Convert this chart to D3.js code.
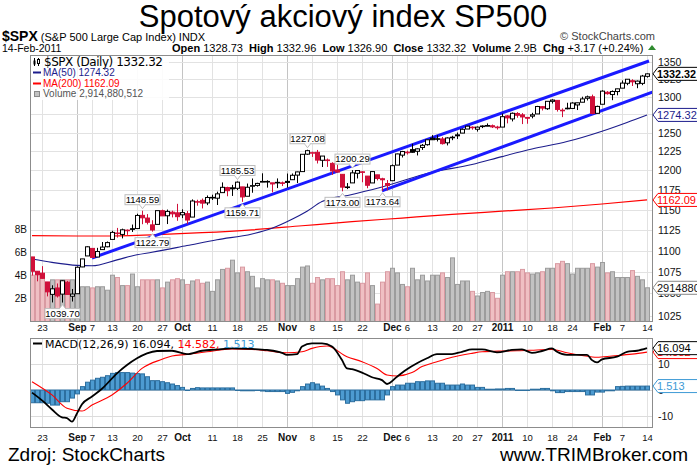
<!DOCTYPE html>
<html><head><meta charset="utf-8">
<script src="https://cdn.jsdelivr.net/npm/d3@7/dist/d3.min.js"></script>
<style>body{margin:0;background:#fff}svg{display:block;font-family:"Liberation Sans",Arial,sans-serif}</style>
</head><body>
<svg id="c" width="697" height="470"></svg>
<script>
// ---------------- DATA ----------------
const dates = ["2010-08-19","2010-08-20","2010-08-23","2010-08-24","2010-08-25","2010-08-26","2010-08-27","2010-08-30","2010-08-31",
"2010-09-01","2010-09-02","2010-09-03","2010-09-07","2010-09-08","2010-09-09","2010-09-10","2010-09-13","2010-09-14","2010-09-15","2010-09-16","2010-09-17","2010-09-20","2010-09-21","2010-09-22","2010-09-23","2010-09-24","2010-09-27","2010-09-28","2010-09-29","2010-09-30",
"2010-10-01","2010-10-04","2010-10-05","2010-10-06","2010-10-07","2010-10-08","2010-10-11","2010-10-12","2010-10-13","2010-10-14","2010-10-15","2010-10-18","2010-10-19","2010-10-20","2010-10-21","2010-10-22","2010-10-25","2010-10-26","2010-10-27","2010-10-28","2010-10-29",
"2010-11-01","2010-11-02","2010-11-03","2010-11-04","2010-11-05","2010-11-08","2010-11-09","2010-11-10","2010-11-11","2010-11-12","2010-11-15","2010-11-16","2010-11-17","2010-11-18","2010-11-19","2010-11-22","2010-11-23","2010-11-24","2010-11-26","2010-11-29","2010-11-30",
"2010-12-01","2010-12-02","2010-12-03","2010-12-06","2010-12-07","2010-12-08","2010-12-09","2010-12-10","2010-12-13","2010-12-14","2010-12-15","2010-12-16","2010-12-17","2010-12-20","2010-12-21","2010-12-22","2010-12-23","2010-12-27","2010-12-28","2010-12-29","2010-12-30","2010-12-31",
"2011-01-03","2011-01-04","2011-01-05","2011-01-06","2011-01-07","2011-01-10","2011-01-11","2011-01-12","2011-01-13","2011-01-14","2011-01-18","2011-01-19","2011-01-20","2011-01-21","2011-01-24","2011-01-25","2011-01-26","2011-01-27","2011-01-28","2011-01-31",
"2011-02-01","2011-02-02","2011-02-03","2011-02-04","2011-02-07","2011-02-08","2011-02-09","2011-02-10","2011-02-11","2011-02-14"];
const prevClose = 1094.16;
const open = [1092.44,1075.63,1073.36,1063.20,1048.98,1056.28,1049.27,1062.90,1046.88,1049.72,1080.66,1093.61,1102.60,1092.36,1101.15,1104.57,1113.38,1121.16,1119.43,1123.89,1126.39,1126.57,1142.82,1139.49,1131.10,1131.69,1148.64,1142.31,1146.75,1145.97,1143.49,1144.96,1140.68,1159.81,1161.57,1158.36,1165.32,1164.28,1171.32,1177.82,1177.47,1176.83,1178.64,1166.74,1179.56,1180.52,1184.74,1184.88,1183.84,1184.47,1183.87,1185.71,1187.86,1193.79,1198.34,1221.20,1223.24,1223.59,1213.14,1213.04,1209.07,1200.44,1194.79,1178.33,1183.75,1196.12,1198.07,1192.51,1183.70,1194.16,1189.08,1182.96,1186.60,1206.81,1219.93,1223.87,1227.25,1225.02,1230.14,1233.85,1242.52,1241.84,1241.58,1236.34,1243.63,1245.76,1249.43,1254.94,1257.53,1254.66,1259.10,1258.78,1259.44,1256.76,1257.62,1272.95,1268.78,1276.29,1274.41,1270.84,1272.58,1275.65,1285.78,1282.90,1293.22,1294.52,1280.85,1283.63,1283.29,1288.17,1291.97,1297.51,1299.63,1276.50,1289.14,1306.00,1302.77,1307.01,1311.85,1318.76,1322.48,1318.13,1318.66,1328.73];
const high = [1092.44,1075.63,1081.58,1063.20,1059.38,1061.45,1065.21,1064.40,1055.14,1081.30,1090.10,1105.10,1102.60,1103.26,1110.27,1110.88,1123.87,1127.36,1126.46,1125.44,1131.47,1144.86,1148.59,1144.38,1136.77,1148.50,1149.92,1150.00,1148.63,1157.16,1150.30,1148.16,1162.76,1162.33,1163.87,1167.73,1168.68,1172.58,1184.38,1178.89,1181.20,1185.53,1178.64,1182.94,1189.43,1183.93,1196.14,1187.11,1183.84,1189.53,1185.46,1195.81,1195.88,1198.30,1221.25,1227.08,1224.57,1226.84,1218.75,1215.45,1210.50,1207.43,1194.79,1183.56,1200.29,1199.97,1198.94,1192.51,1198.62,1194.16,1190.34,1187.40,1207.61,1221.89,1225.57,1225.80,1235.05,1228.93,1234.71,1240.40,1246.73,1246.59,1244.25,1243.75,1245.81,1250.20,1255.82,1259.39,1258.59,1258.43,1259.90,1262.60,1261.09,1259.34,1276.17,1274.12,1277.63,1278.17,1276.83,1271.52,1277.25,1286.87,1286.70,1293.24,1296.06,1294.60,1283.35,1291.21,1291.93,1291.26,1299.74,1301.29,1302.67,1287.17,1308.86,1307.61,1308.60,1311.00,1322.85,1324.87,1324.54,1322.78,1330.79,1332.96];
const low = [1070.66,1063.91,1067.08,1046.68,1039.83,1045.40,1039.70,1048.79,1040.88,1049.72,1080.39,1093.61,1091.15,1092.36,1101.15,1103.92,1113.38,1115.58,1114.63,1118.88,1122.43,1126.57,1131.87,1131.58,1122.79,1131.69,1142.00,1132.09,1140.26,1136.08,1139.42,1131.87,1140.68,1154.85,1151.41,1155.58,1162.02,1155.71,1171.32,1166.71,1167.12,1174.55,1159.71,1166.74,1171.17,1178.99,1184.74,1177.72,1171.70,1177.10,1179.70,1177.65,1187.86,1183.56,1198.34,1220.29,1217.55,1208.94,1204.33,1204.49,1194.08,1197.15,1173.00,1175.82,1183.75,1189.44,1184.58,1176.91,1183.70,1186.93,1173.64,1174.14,1186.60,1206.81,1216.82,1220.67,1223.25,1219.50,1226.85,1232.57,1240.34,1238.17,1234.01,1232.85,1239.87,1241.51,1249.43,1254.94,1254.05,1251.48,1256.22,1258.78,1256.32,1254.19,1257.62,1262.66,1265.36,1270.43,1261.70,1262.18,1269.62,1275.65,1280.47,1281.24,1290.16,1278.92,1271.26,1282.07,1282.47,1281.07,1291.97,1294.41,1275.10,1276.50,1289.14,1302.62,1294.83,1301.67,1311.85,1316.03,1314.89,1311.74,1316.08,1326.90];
const close = [1075.63,1071.69,1067.36,1051.87,1055.33,1047.22,1064.59,1048.92,1049.33,1080.29,1090.10,1104.51,1091.84,1098.87,1104.18,1109.55,1121.90,1121.10,1125.07,1124.66,1125.59,1142.71,1139.78,1134.28,1124.83,1148.67,1142.16,1147.70,1144.73,1141.20,1146.24,1137.03,1160.75,1159.97,1158.06,1165.15,1165.32,1169.77,1178.10,1173.81,1176.19,1184.71,1165.90,1178.17,1180.26,1183.08,1185.62,1185.64,1182.45,1183.78,1183.26,1184.38,1193.57,1197.96,1221.06,1225.85,1223.25,1213.40,1218.71,1213.54,1199.21,1197.75,1178.34,1178.59,1196.69,1199.73,1197.84,1180.73,1198.35,1189.40,1187.76,1180.55,1206.07,1221.53,1224.71,1223.12,1223.75,1228.28,1233.00,1240.40,1240.46,1241.59,1235.23,1242.87,1243.91,1247.08,1254.60,1258.84,1256.77,1257.54,1258.51,1259.78,1257.88,1257.64,1271.87,1270.20,1276.56,1273.85,1271.50,1269.75,1274.48,1285.96,1283.76,1293.24,1295.02,1281.92,1280.26,1283.35,1290.84,1291.18,1296.63,1299.54,1276.34,1286.12,1307.59,1304.03,1307.10,1310.87,1319.05,1324.57,1320.88,1321.87,1329.15,1332.32];
// volume in billions
const volume = [4.0,4.0,4.0,3.1,3.6,3.6,3.6,3.6,3.6,3.3, 3.0,3.0,2.9,3.0,3.0,2.7,4.0,3.8,3.1,3.1, 4.1,3.0,3.6,3.6,3.6,3.6,2.9,3.4,3.6,3.7, 3.6,3.2,3.5,3.6,3.3,3.4,2.6,3.6,4.5,4.6, 5.3,4.2,4.7,4.3,3.9,2.9,3.7,3.6,3.6,3.5, 3.3,3.1,3.1,3.7,4.7,4.8,3.3,3.8,3.6,3.7, 3.7,3.1,4.3,3.6,4.0,3.4,3.3,4.2,3.1,1.5, 3.4,4.3,4.6,4.2,3.2,3.0,4.6,3.6,4.0,3.5, 4.0,4.0,4.2,3.8,5.5,3.2,3.5,3.5,2.6,2.2, 2.5,2.6,2.5,2.0,4.0,4.3,4.3,4.3,4.5,4.2, 4.1,4.2,4.3,4.6,4.6,5.0,5.2,5.0,4.1,4.6, 4.6,4.6,5.0,4.7,5.1,4.2,4.3,3.8,3.8,3.8, 4.4,3.9,3.6,2.91];
// moving averages (trading-day index, value)
const ma50Idx = [0,4,9,12,17,21,24,31,37,44,48,52,55,58,64,70,80,88,94,100,107,114,119,123];
const ma50Val = [1090,1086,1082.5,1082,1089,1095,1098,1106,1113,1120,1127,1138,1148,1160,1169,1178.5,1197.5,1207.5,1218,1228,1238,1252,1264,1274.32];
const ma200Idx = [0,9,14,24,34,44,54,64,74,84,94,104,114,123];
const ma200Val = [1118,1117.5,1117.5,1119,1121.5,1125,1130,1135,1139.5,1144,1148,1152,1157,1162.09];
// MACD(12,26,9)
const macdIdx = [0,2,4,6,7,8,9,10,12,14,17,19,21,23,25,28,31,34,37,40,44,47,50,51,53,54,56,58,60,62,63,64,66,68,70,71,73,75,77,79,81,84,86,88,90,93,96,98,100,102,104,105,107,109,111,112,113,114,117,119,121,123];
const macdVal = [-1,-4,-7.5,-10.5,-10.8,-12.2,-9,-5.5,-2.5,0.5,6.4,9.6,12.2,14.1,15,15.1,13.8,15.1,15.6,16,15.8,15.4,14.3,13.5,13.8,16.7,17.9,17.9,16.7,11.5,8.3,8,6.7,4.9,3.8,2.3,5.1,8,10.3,12.2,13.8,13.8,14.7,15.6,15.6,14.5,15.4,15.6,14.3,15,16,14.7,13.5,13.5,13.5,11.5,10.6,11.8,12.8,14.7,15.1,16.094];
const sigIdx = [0,4,7,10,12,16,19,22,26,28,31,35,40,44,47,51,54,56,59,63,66,69,71,73,76,78,81,84,88,90,94,97,101,104,107,110,113,116,120,123];
const sigVal = [3.2,-1.9,-7,-8.1,-5.8,-1.9,2.6,8.3,11.8,13.1,13.7,14.7,15.8,15.6,15.1,14.3,14.7,16,16.9,12.8,10.9,8.3,5.8,5.4,6.7,9,10.9,12.6,14.1,14.7,15,15.1,15.4,15.6,14.3,13.3,12.6,13.1,13.8,14.582];
const hist = [-4.9,-4.9,-4.9,-5.1,-5.8,-5.8,-4.5,-4.5,-3.1,-1.5, 1.3,3.0,3.8,4.5,4.9,5.5,6.4,6.7,6.7,6.7, 6.5,6.3,6.2,5.1,3.6,3.6,3.2,2.8,2.3,1.7, 1.0,0,0.6,0.9,0.8,0.8,0.8,0.8,0.8,0.8, 0.8,0,-0.3,-0.3,-0.3,0,-0.4,-0.6,-0.6,-0.6, -0.6,-1.3,-0.9,-0.3,1.3,2.3,2.8,2.3,1.5,0.6, -0.6,-1.9,-3.8,-5.1,-4.5,-4.1,-4.1,-3.8,-3.8,-3.8, -3.8,-1.9,1.3,1.9,1.9,2.6,2.6,3.2,3.2,3.5, 3.5,2.6,2.6,1.9,1.9,1.9,2.3,1.9,1.9,1.0, 1.0,0.3,0.3,0.4,0.4,0.6,0.6,-0.1,-0.1,-0.1, 0.3,0.3,0.6,0.6,-0.3,-1.0,-1.0,-0.6,-0.6,-0.6, -0.6,-1.9,-1.9,-0.8,-0.8,-0.3,-0.3,1.3,1.4,1.5, 1.5,1.5,1.5,1.513];
// trend channel (index, price)
const upperLine = [[12,1091.15],[123.4,1351]];
const lowerLine = [[70,1173.64],[124.2,1306.5]];
// peak / trough labels
const annIdx = [6,22,24,41,42,55,62,64,70];
const annVal = [1039.70,1148.59,1122.79,1185.53,1159.71,1227.08,1173.00,1200.29,1173.64];
const annType = ["low","high","low","high","low","high","low","high","low"];
// axis labels
const tickIdx = [2,9,12,16,21,26,30,36,41,46,51,56,61,66,72,75,80,85,89,94,99,104,108,114,118,123];
const tickText = ["23","Sep","7","13","20","27","Oct","11","18","25","Nov","8","15","22","Dec","6","13","20","27","2011","10","18","24","Feb","7","14"];
const tickMonth = ["Sep","Oct","Nov","Dec","2011","Feb"];
const priceTicks = [1025,1050,1075,1100,1125,1150,1175,1200,1225,1250,1275,1300,1325,1350];
const volTicks = [2,4,6,8];
const macdTicks = [-10,0,10];

// ---------------- DRAW ----------------
const svg = d3.select("#c");
const L=30, R=653, T=55, B=322, MT=338, MB=428;
const RED="#d0103a", NAVY="#1c1c8c", BLUE="#1a1aff", HB="#4d9bd1";
const xi = d3.scaleLinear().domain([0,123]).range([32,647]);
const y = d3.scaleLog().domain([1025,1350]).range([315.7,61.7]);
const yv = d3.scaleLinear().domain([0,8]).range([321.4,229]);
const ym = d3.scaleLinear().domain([-10,10]).range([416,364]);
const px = i => Math.round(xi(i));

svg.append("rect").attr("width",697).attr("height",470).attr("fill","#fff");
const defs = svg.append("defs");
defs.append("clipPath").attr("id","cm").append("rect").attr("x",L).attr("y",T).attr("width",R-L).attr("height",B-T);
defs.append("clipPath").attr("id","cd").append("rect").attr("x",L).attr("y",MT).attr("width",R-L).attr("height",MB-MT);

// Title & header
svg.append("text").attr("x",343).attr("y",27).attr("text-anchor","middle").attr("font-size",31).attr("fill","#000").text("Spotový akciový index SP500");
const h1 = svg.append("text").attr("x",2).attr("y",41).attr("font-size",11);
h1.append("tspan").attr("font-weight","bold").attr("font-size",14).text("$SPX");
h1.append("tspan").text(" (S&P 500 Large Cap Index) INDX");
svg.append("text").attr("x",655).attr("y",40).attr("text-anchor","end").attr("font-size",11).attr("fill","#444").text("© StockCharts.com");
svg.append("text").attr("x",2).attr("y",52).attr("font-size",10.5).text("14-Feb-2011");
const h2 = svg.append("text").attr("x",172).attr("y",52).attr("font-size",11);
[["Open"," 1328.73  "],["High"," 1332.96  "],["Low"," 1326.90  "],["Close"," 1332.32  "],["Volume"," 2.9B  "],["Chg"," +3.17 (+0.24%)"]].forEach(([a,b])=>{
  h2.append("tspan").attr("font-weight","bold").text(a);
  h2.append("tspan").attr("xml:space","preserve").text(b);
});
svg.append("path").attr("d","M648,50 L652,45 L656,50 Z").attr("fill","#2e8b2e");

// Frames & grids
function vgrid(y0,y1){
  tickIdx.forEach((t,k)=>{
    svg.append("line").attr("x1",px(t)+0.5).attr("x2",px(t)+0.5).attr("y1",y0).attr("y2",y1)
      .attr("stroke", tickMonth.includes(tickText[k]) ? "#c4c4c4" : "#e2e2e2");
  });
}
vgrid(T,B); vgrid(MT,MB);
priceTicks.forEach(p=>svg.append("line").attr("x1",L).attr("x2",R).attr("y1",Math.round(y(p))+0.5).attr("y2",Math.round(y(p))+0.5).attr("stroke","#e2e2e2"));
macdTicks.forEach(v=>svg.append("line").attr("x1",L).attr("x2",R).attr("y1",Math.round(ym(v))+0.5).attr("y2",Math.round(ym(v))+0.5).attr("stroke","#dcdcdc"));

// Volume
const gm = svg.append("g").attr("clip-path","url(#cm)");
volume.forEach((v,i)=>{
  const up = close[i] >= (i? close[i-1] : prevClose);
  gm.append("rect").attr("x",px(i)-2+0.5).attr("y",yv(v)).attr("width",4).attr("height",yv(0)-yv(v))
    .attr("fill", up ? "#c2c2c2" : "#efbfc3").attr("stroke", up ? "#9c9c9c" : "#d99aa2");
});
// MAs
const lineIdx = d3.line().x(d=>xi(d[0])).y(d=>y(d[1])).curve(d3.curveMonotoneX);
gm.append("path").attr("d",lineIdx(d3.zip(ma200Idx,ma200Val))).attr("fill","none").attr("stroke","#ff0000").attr("stroke-width",1.2);
gm.append("path").attr("d",lineIdx(d3.zip(ma50Idx,ma50Val))).attr("fill","none").attr("stroke",NAVY).attr("stroke-width",1.1);
// Trend channel
[upperLine,lowerLine].forEach(l=>gm.append("line").attr("x1",xi(l[0][0])).attr("y1",y(l[0][1])).attr("x2",xi(l[1][0])).attr("y2",y(l[1][1])).attr("stroke",BLUE).attr("stroke-width",3));
// Candles
close.forEach((c,i)=>{
  const o=open[i], pc = i? close[i-1] : prevClose;
  const col = c >= pc ? "#000" : RED;
  const X = px(i);
  gm.append("line").attr("x1",X+0.5).attr("x2",X+0.5).attr("y1",y(high[i])).attr("y2",y(low[i])).attr("stroke",col);
  const t = y(Math.max(o,c)), b = y(Math.min(o,c));
  gm.append("rect").attr("x",X-1.5).attr("y",t).attr("width",4).attr("height",Math.max(b-t,0.6))
    .attr("fill", c < o ? col : "#fff").attr("stroke",col);
});
// Peak / trough labels
annIdx.forEach((idx,k)=>{
  const X = px(idx)+0.5, v = annVal[k], hi = annType[k]==="high";
  const yy = y(v);
  const txt = v.toFixed(2), w = 35, h = 10;
  const by = hi ? yy-6-h : yy+6;
  const g = gm.append("g");
  g.append("rect").attr("x",X-w/2).attr("y",by).attr("width",w).attr("height",h).attr("fill","#fff").attr("stroke","#bdbdbd");
  const tip = hi ? yy-2 : yy+2, base = hi ? by+h : by;
  g.append("path").attr("d",`M${X-3},${base} L${X},${tip} L${X+3},${base}`).attr("fill","#fff").attr("stroke","#bdbdbd");
  g.append("line").attr("x1",X-2.5).attr("x2",X+2.5).attr("y1",base).attr("y2",base).attr("stroke","#fff");
  g.append("text").attr("x",X).attr("y",by+8.3).attr("text-anchor","middle").attr("font-size",9.5).attr("fill","#000").text(txt);
});

// MACD panel
const gd = svg.append("g").attr("clip-path","url(#cd)");
hist.forEach((v,i)=>{
  const y0 = ym(0), y1 = ym(v);
  gd.append("rect").attr("x",px(i)-2+0.5).attr("y",Math.min(y0,y1)).attr("width",4).attr("height",Math.max(Math.abs(y1-y0),0.5))
    .attr("fill",HB).attr("stroke","#2d6f9f");
});
const lineM = d3.line().x(d=>xi(d[0])).y(d=>ym(d[1])).curve(d3.curveMonotoneX);
gd.append("path").attr("d",lineM(d3.zip(sigIdx,sigVal))).attr("fill","none").attr("stroke","#ff0000").attr("stroke-width",1.1);
gd.append("path").attr("d",lineM(d3.zip(macdIdx,macdVal))).attr("fill","none").attr("stroke","#000").attr("stroke-width",1.8);

// Frames
svg.append("rect").attr("x",L+0.5).attr("y",T+0.5).attr("width",R-L-1).attr("height",B-T-1).attr("fill","none").attr("stroke","#8c8c8c");
svg.append("rect").attr("x",L+0.5).attr("y",MT+0.5).attr("width",R-L-1).attr("height",MB-MT-1).attr("fill","none").attr("stroke","#8c8c8c");

// Legends
const lg = svg.append("g");
lg.append("rect").attr("x",31).attr("y",56).attr("width",138).attr("height",44).attr("fill","#fff").attr("opacity",0.85);
lg.append("line").attr("x1",34.5).attr("x2",34.5).attr("y1",58).attr("y2",66).attr("stroke","#000");
lg.append("rect").attr("x",33.5).attr("y",60.5).attr("width",2).attr("height",4).attr("fill","#000");
lg.append("line").attr("x1",38.5).attr("x2",38.5).attr("y1",58).attr("y2",66).attr("stroke","#000");
lg.append("rect").attr("x",37.5).attr("y",59.5).attr("width",2).attr("height",4).attr("fill","#fff").attr("stroke","#000");
lg.append("text").attr("x",44).attr("y",66).attr("font-size",12).attr("font-family","DejaVu Sans").attr("textLength",119).text("$SPX (Daily) 1332.32");
lg.append("line").attr("x1",33).attr("x2",41).attr("y1",72.5).attr("y2",72.5).attr("stroke",NAVY).attr("stroke-width",2);
lg.append("text").attr("x",43).attr("y",76).attr("font-size",10).attr("fill",NAVY).text("MA(50) 1274.32");
lg.append("line").attr("x1",33).attr("x2",41).attr("y1",83.5).attr("y2",83.5).attr("stroke","#ff0000").attr("stroke-width",2);
lg.append("text").attr("x",43).attr("y",87).attr("font-size",10).attr("fill","#ff0000").text("MA(200) 1162.09");
lg.append("rect").attr("x",34.5).attr("y",91.5).attr("width",5).attr("height",5).attr("fill","#c2c2c2").attr("stroke","#888");
lg.append("text").attr("x",43).attr("y",97).attr("font-size",10).attr("fill","#555").text("Volume 2,914,880,512");

const ml = svg.append("text").attr("x",45).attr("y",347.5).attr("font-size",11).attr("font-family","DejaVu Sans");
svg.append("line").attr("x1",33).attr("x2",42).attr("y1",343.5).attr("y2",343.5).attr("stroke","#000").attr("stroke-width",2);
ml.append("tspan").attr("fill","#000").text("MACD(12,26,9) 16.094,");
ml.append("tspan").attr("fill","#ff0000").text(" 14.582,");
ml.append("tspan").attr("fill","#3d9ad6").text(" 1.513");

// Axes labels
priceTicks.forEach(p=>svg.append("text").attr("x",658).attr("y",y(p)+4).attr("font-size",10.5).attr("fill","#111").text(p));
volTicks.forEach(v=>svg.append("text").attr("x",27).attr("y",yv(v)+4).attr("text-anchor","end").attr("font-size",10).attr("fill","#111").text(v+"B"));
svg.append("text").attr("x",658).attr("y",ym(10)+4).attr("font-size",10.5).attr("fill","#111").text("10");
svg.append("text").attr("x",658).attr("y",ym(0)+4).attr("font-size",10.5).attr("fill","#111").text("0");
svg.append("text").attr("x",658).attr("y",ym(-10)+4).attr("font-size",10.5).attr("fill","#111").text("-10");
[331, 441].forEach(yy=>{
  tickIdx.forEach((t,k)=>{
    const m = tickMonth.includes(tickText[k]);
    svg.append("text").attr("x",px(t)+0.5).attr("y",yy).attr("text-anchor","middle").attr("font-size",m?10:9.5)
      .attr("font-weight",m?"bold":"normal").attr("fill","#111").text(tickText[k]);
  });
});

// Right tags
function tag(yy, txt, col, bold, textCol, tl){
  const g = svg.append("g");
  g.append("path").attr("d",`M${R},${yy} L${R+5},${yy-6.5} L700,${yy-6.5} L700,${yy+6.5} L${R+5},${yy+6.5} Z`).attr("fill","#fff").attr("stroke",col);
  const t = g.append("text").attr("x",R+4).attr("y",yy+4).attr("font-size",bold?11.5:11).attr("font-weight",bold?"bold":"normal").attr("fill",textCol||col).text(txt);
  if (tl) t.attr("textLength",tl).attr("lengthAdjust","spacingAndGlyphs");
}
tag(y(close[123]),"1332.32","#000",true,null,39);
tag(y(ma50Val[ma50Val.length-1]),"1274.32",NAVY,false);
tag(y(ma200Val[ma200Val.length-1]),"1162.09","#ff0000",false);
tag(yv(volume[123]),"2914880512","#888",false,"#111");
tag(ym(sigVal[sigVal.length-1]),"14.582","#ff0000",false);
tag(ym(macdVal[macdVal.length-1]),"16.094","#000",false);
tag(ym(hist[123]),"1.513","#3d9ad6",false);

// Footer
svg.append("text").attr("x",8).attr("y",461).attr("font-size",19).attr("textLength",157).text("Zdroj: StockCharts");
svg.append("text").attr("x",688).attr("y",461).attr("text-anchor","end").attr("font-size",19).text("www.TRIMBroker.com");
</script>
</body></html>
